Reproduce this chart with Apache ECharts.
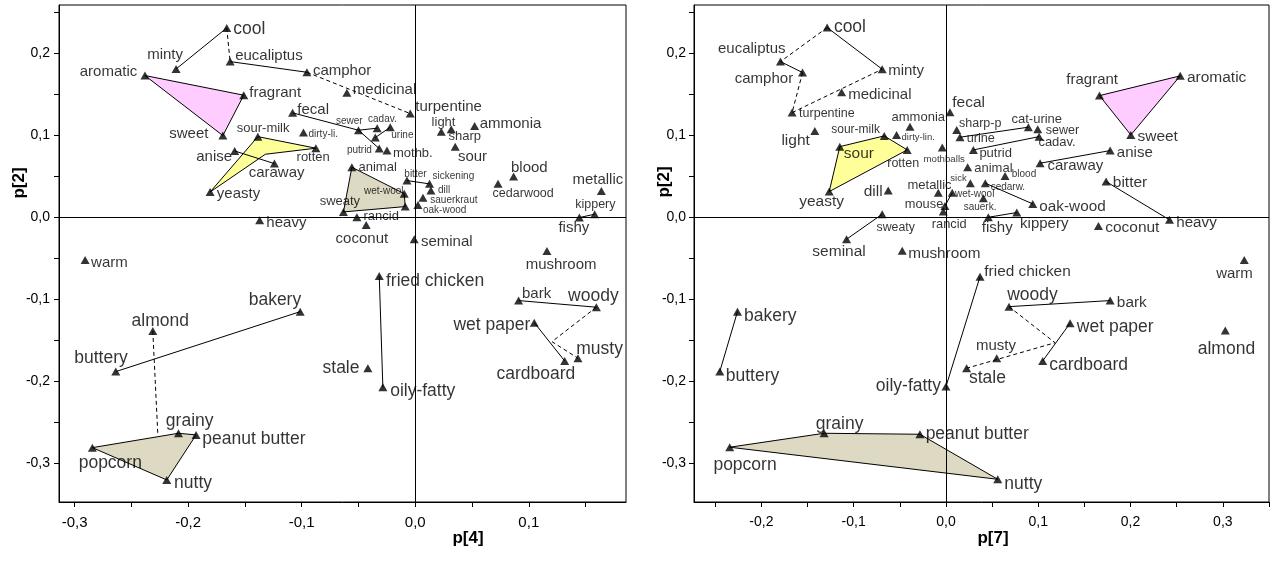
<!DOCTYPE html>
<html>
<head>
<meta charset="utf-8">
<script src="https://cdn.jsdelivr.net/npm/echarts@6/dist/echarts.min.js"></script>
<style>
  html, body { margin: 0; padding: 0; background: #fff; }
  #chart { width: 1276px; height: 562px; }
</style>
</head>
<body>
<div id="chart"></div>
<script>
// ---------- Loadings: p[4] vs p[2] ----------
const leftTerms = ['cool','minty','eucaliptus','camphor','aromatic','fragrant','sweet','medicinal','turpentine','fecal',
  'sour-milk','dirty-li.','sewer','cadav.','urine','putrid','mothb.','rotten','anise','caraway',
  'yeasty','heavy','light','sharp','ammonia','sour','animal','wet-wool','sweaty','rancid',
  'coconut','bitter','sickening','dill','sauerkraut','oak-wood','seminal','blood','cedarwood','metallic',
  'kippery','fishy','mushroom','warm','fried chicken','stale','oily-fatty','bakery','almond','buttery',
  'grainy','peanut butter','popcorn','nutty','bark','woody','wet paper','cardboard','musty'];
const leftP4 = [-0.166,-0.2106,-0.163,-0.0954,-0.238,-0.151,-0.1694,-0.0602,-0.0044,-0.108,
  -0.1386,-0.0984,-0.050,-0.0335,-0.022,-0.0317,-0.0249,-0.0875,-0.159,-0.124,
  -0.1806,-0.137,0.0229,0.0317,0.0523,0.0352,-0.0558,-0.0097,-0.0632,-0.0514,
  -0.0432,-0.0073,0.0126,0.0138,0.0068,0.0024,-0.0009,0.0866,0.0729,0.1639,
  0.158,0.1445,0.116,-0.2907,-0.0317,-0.0417,-0.0285,-0.1013,-0.2311,-0.2637,
  -0.2085,-0.193,-0.2843,-0.2188,0.091,0.1595,0.1048,0.1316,0.1433];
const leftP2 = [0.231,0.181,0.190,0.177,0.173,0.149,0.0998,0.152,0.1266,0.1275,
  0.0985,0.1034,0.1063,0.1088,0.110,0.0839,0.0815,0.0844,0.081,0.0656,
  0.031,-0.0034,0.1046,0.1075,0.1116,0.0863,0.0612,0.029,0.0067,0.0002,
  -0.0091,0.0449,0.0409,0.0327,0.0241,0.0152,-0.0266,0.0498,0.0409,0.0323,
  0.0039,-0.0002,-0.0409,-0.0518,-0.0713,-0.1839,-0.2071,-0.1149,-0.1384,-0.188,
  -0.2632,-0.2652,-0.2807,-0.3201,-0.1014,-0.1095,-0.1283,-0.175,-0.1717];
// markers drawn without a name (#0, #1)
const leftMarks = [[-0.0352, 0.0973], [-0.0088, 0.0132]];
// unmarked vertices used by outlines and connectors (@0, @1, @2)
const leftJoints = [[-0.132, 0.077], [0.1204, -0.1515], [-0.2267, -0.264]];
const leftSolid = [['cool','minty'],['eucaliptus','camphor'],['fecal','sewer'],['sewer','cadav.'],['sewer','putrid'],
  ['#0','urine'],['anise','caraway'],['bitter','sickening'],['fried chicken','oily-fatty'],['bakery','buttery'],
  ['bark','woody'],['wet paper','cardboard'],['fishy','kippery']];
const leftDashed = [['cool','eucaliptus'],['camphor','turpentine'],['almond','@2'],['woody','@1','musty']];
const leftGroups = [['aromatic','fragrant','sweet'],['sour-milk','rotten','@0','yeasty'],
  ['animal','wet-wool','#1','sweaty'],['popcorn','grainy','peanut butter','nutty']];

// ---------- Loadings: p[7] vs p[2] ----------
const rightTerms = ['cool','eucaliptus','camphor','minty','medicinal','turpentine','light','sour-milk','dirty-lin.','ammonia',
  'sour','rotten','yeasty','dill','mothballs','metallic','mouse','rancid','wet-wool','sick',
  'cedarw.','sauerk.','blood','animal','putrid','fecal','sharp-p','urine','cat-urine','sewer',
  'cadav.','caraway','anise','fragrant','aromatic','sweet','bitter','heavy','coconut','oak-wood',
  'fishy','kippery','sweaty','seminal','mushroom','fried chicken','bakery','buttery','oily-fatty','grainy',
  'peanut butter','popcorn','nutty','woody','bark','wet paper','cardboard','musty','stale','warm','almond'];
const rightP7 = [-0.1287,-0.1793,-0.1554,-0.0691,-0.1131,-0.1667,-0.1421,-0.0669,-0.0535,-0.039,
  -0.115,-0.042,-0.1265,-0.0626,-0.004,-0.0083,-0.0011,-0.0029,0.0068,0.0264,
  0.0426,0.0405,0.064,0.0235,0.0297,0.0043,0.0116,0.0152,0.0893,0.0994,
  0.1009,0.102,0.1779,0.1663,0.2538,0.2003,0.1735,0.2422,0.1652,0.094,
  0.0459,0.0767,-0.0691,-0.1077,-0.0474,0.0369,-0.2259,-0.2451,0.0,-0.132,
  -0.0282,-0.2343,0.0561,0.0683,0.1779,0.1345,0.1048,0.055,0.0224,0.3232,0.3026];
const rightP2 = [0.2315,0.190,0.1766,0.1807,0.1527,0.1278,0.1055,0.0994,0.1006,0.1107,
  0.0863,0.0823,0.0315,0.0327,0.0851,0.0302,0.014,0.0071,0.0302,0.0417,
  0.0417,0.0234,0.0506,0.0612,0.0823,0.1283,0.1067,0.0978,0.110,0.1076,
  0.0985,0.0661,0.0815,0.1485,0.1726,0.1006,0.0437,-0.003,-0.0104,0.0165,
  0.0002,0.0059,0.0039,-0.0266,-0.0405,-0.0722,-0.1149,-0.188,-0.2063,-0.2632,
  -0.2644,-0.2802,-0.3193,-0.1088,-0.1014,-0.129,-0.175,-0.1717,-0.1839,-0.0518,-0.138];
const rightMarks = [];
const rightJoints = [[0.1182, -0.1528]];
const rightSolid = [['cool','minty'],['eucaliptus','camphor'],['urine','cat-urine'],['putrid','cadav.'],['caraway','anise'],
  ['bitter','heavy'],['cedarw.','oak-wood'],['fishy','kippery'],['sweaty','seminal'],['wet-wool','mouse'],
  ['fried chicken','oily-fatty'],['bakery','buttery'],['woody','bark'],['wet paper','cardboard']];
const rightDashed = [['cool','eucaliptus'],['camphor','turpentine'],['turpentine','minty'],['woody','@0','stale']];
const rightGroups = [['fragrant','aromatic','sweet'],['sour','sour-milk','rotten','yeasty'],
  ['popcorn','grainy','peanut butter','nutty']];

// tick positions and labelled values
const yTicks = [-0.3,-0.25,-0.2,-0.15,-0.1,-0.05,0,0.05,0.1,0.15,0.2,0.25];
const yLabels = [-0.3,-0.2,-0.1,0,0.1,0.2];
const leftXTicks = [-0.3,-0.25,-0.2,-0.15,-0.1,-0.05,0,0.05,0.1,0.15];
const leftXLabels = [-0.3,-0.2,-0.1,0,0.1];
const rightXTicks = [-0.25,-0.2,-0.15,-0.1,-0.05,0,0.05,0.1,0.15,0.2,0.25,0.3,0.35];
const rightXLabels = [-0.2,-0.1,0,0.1,0.2,0.3];

// ---------- label placement: [align, dx, dy, fontSize] ----------
const leftLayout = {
  'cool':['l',6.6,1,17.5],'minty':['c',-11,-14,15],'eucaliptus':['l',5,-6,15],'camphor':['l',6,-1.3,15],
  'aromatic':['r',-7.7,-4,15],'fragrant':['l',5.6,-2,15],'sweet':['r',-14.4,-1.4,15],'medicinal':['l',6,-2.7,15],
  'turpentine':['l',5,-6.4,15],'fecal':['l',4.7,-2.6,15],'sour-milk':['c',5.3,-8.7,13],'dirty-li.':['l',5,1.3,10],
  'sewer':['c',-9.1,-9.3,10],'cadav.':['c',5.2,-9,10],'urine':['l',1,7.7,10],'putrid':['r',-7.3,2,10],
  'mothb.':['l',6,3.3,13],'rotten':['c',-2.7,9.4,13],'anise':['r',-2.6,5.7,15],'caraway':['c',2.2,9.6,15],
  'yeasty':['l',6.7,2.3,15],'heavy':['l',6.7,3,15],'light':['c',2.3,-9,13],'sharp':['l',-2.7,7.4,13],
  'ammonia':['l',5,-2,15],'sour':['l',2.7,10,15],'animal':['l',6.6,0.4,13],'wet-wool':['r',-0.7,-2,10],
  'sweaty':['c',-3.6,-10.3,13],'rancid':['l',6.6,-0.6,13],'coconut':['c',-4.3,14,15],'bitter':['c',8.5,-6.7,10],
  'sickening':['l',3,-7.3,10],'dill':['l',7,-0.7,10],'sauerkraut':['l',7.3,3,10],'oak-wood':['l',5,5.7,10],
  'seminal':['l',6.7,2.4,15],'blood':['l',-2.6,-8.4,15],'cedarwood':['l',-5.4,9.3,12.5],'metallic':['c',-3.5,-11,15],
  'kippery':['c',0.7,-9.3,12.5],'fishy':['c',-5.5,10.6,15],'mushroom':['c',14.1,14,15],'warm':['l',6,3.3,15],
  'fried chicken':['l',6.7,5.7,17.5],'stale':['r',-8.4,0,17.5],'oily-fatty':['l',7.3,4.4,17.5],
  'bakery':['r',1,-11.7,17.5],'almond':['c',7.5,-10,17.5],'buttery':['r',12,-13.4,17.5],'grainy':['c',11.2,-12.6,17.5],
  'peanut butter':['l',6.3,4.3,17.5],'popcorn':['c',17.9,15.6,17.5],'nutty':['l',7.3,3.3,17.5],
  'bark':['l',3.4,-6.7,15],'woody':['c',-3,-11.3,17.5],'wet paper':['r',-4,2.3,17.5],'cardboard':['c',-28.8,13,17.5],
  'musty':['l',-1.7,-9,17.5]
};
const rightLayout = {
  'cool':['l',6.7,-0.4,17.5],'eucaliptus':['c',-28.7,-12.7,15],'camphor':['r',-9.4,6.6,15],'minty':['l',6,1.4,15],
  'medicinal':['l',6.6,2.7,15],'turpentine':['l',7,1,12.5],'light':['r',-5,9.7,15.5],'sour-milk':['r',-4.3,-6.7,12],
  'dirty-lin.':['l',5,2.3,9.5],'ammonia':['c',8.3,-9,13],'sour':['l',4,7.3,15.5],'rotten':['c',-4,13.3,12.5],
  'yeasty':['c',-7.6,10,15.5],'dill':['r',-5.6,1,15.5],'mothballs':['c',1.9,11.3,9.7],'metallic':['c',-8.8,-7.7,13],
  'mouse':['r',-1.7,-1.7,12.8],'rancid':['c',5.9,13.3,12.8],'wet-wool':['l',2.7,1.3,10],'sick':['r',-3.6,-5,9.5],
  'cedarw.':['l',5.4,4,10],'sauerk.':['c',-3.3,9.4,10],'blood':['l',6.7,-1.7,10],'animal':['l',6.6,1,13],
  'putrid':['l',6,3.3,13],'fecal':['l',2.3,-9.6,15.5],'sharp-p':['l',2.3,-6.7,12.5],'urine':['l',6.7,1,12.7],
  'cat-urine':['c',8.4,-7.3,13],'sewer':['l',8,1.4,12.5],'cadav.':['l',-0.7,5.6,13],'caraway':['l',7.3,2.4,15],
  'anise':['l',6.7,2.6,15],'fragrant':['c',-7.3,-15.7,15],'aromatic':['l',6.7,1.7,15.5],'sweet':['l',6.6,1.7,15.5],
  'bitter':['l',6.7,1.6,15.5],'heavy':['l',6.7,2.7,15.2],'coconut':['l',6.7,1.7,15.5],'oak-wood':['l',6.6,2.7,15.3],
  'fishy':['c',8.9,10.4,15],'kippery':['l',3.3,11.3,15],'sweaty':['c',13.5,13,12.3],'seminal':['c',-7.5,12.4,15.5],
  'mushroom':['l',6,3.3,15.3],'fried chicken':['l',4.3,-4.4,15.4],'bakery':['l',6.6,5,17.5],'buttery':['l',6,4.3,17.5],
  'oily-fatty':['r',-5,-0.7,17.5],'grainy':['c',15.5,-9.3,17.5],'peanut butter':['l',5.7,0,17.5],
  'popcorn':['c',15.3,17.7,17.5],'nutty':['l',6.6,5,17.5],'woody':['c',23.5,-11,17.5],'bark':['l',6.7,2.6,15.4],
  'wet paper':['l',6.7,4,17.5],'cardboard':['l',6.6,4,17.5],'musty':['c',-0.7,-12.6,15],'stale':['l',2.3,10,17.5],
  'warm':['c',-9.8,14,15],'almond':['c',1.2,18.3,17.5]
};
const leftFills = ['#ffccff', '#ffff99', '#ddd9c3', '#ddd9c3'];
const rightFills = ['#ffccff', '#ffff99', '#ddd9c3'];

const FONT = '"Liberation Sans", Arial, Helvetica, sans-serif';
const INK = '#000';
const fmt = v => (Math.round(v * 10) / 10).toFixed(1).replace('.', ',');

function lookup(terms, xs, ys, marks, joints) {
  const m = {};
  terms.forEach((t, i) => { m[t] = [xs[i], ys[i]]; });
  marks.forEach((p, i) => { m['#' + i] = p; });
  joints.forEach((p, i) => { m['@' + i] = p; });
  return m;
}

function labelFor(spec) {
  const [a, dx, dy, size] = spec;
  return {
    show: true, formatter: '{b}', position: ['50%', '50%'],
    align: a === 'l' ? 'left' : a === 'r' ? 'right' : 'center',
    verticalAlign: 'middle', offset: [dx, dy],
    fontSize: size, fontFamily: FONT, color: INK
  };
}

function panelSeries(idx, terms, xs, ys, marks, joints, solid, dashed, groups, fills, layout) {
  const P = lookup(terms, xs, ys, marks, joints);
  const links = solid.map(k => ({ keys: k, dash: false })).concat(dashed.map(k => ({ keys: k, dash: true })));
  const polys = {
    type: 'custom', xAxisIndex: idx, yAxisIndex: idx, z: 1, silent: true,
    data: groups.map(g => P[g[0]]),
    renderItem: (params, api) => {
      const g = groups[params.dataIndex];
      return {
        type: 'polygon',
        shape: { points: g.map(k => api.coord(P[k])) },
        style: { fill: fills[params.dataIndex], stroke: '#000', lineWidth: 1 }
      };
    }
  };
  const lines = {
    type: 'custom', xAxisIndex: idx, yAxisIndex: idx, z: 2, silent: true,
    data: links.map(l => P[l.keys[0]]),
    renderItem: (params, api) => {
      const l = links[params.dataIndex];
      return {
        type: 'polyline',
        shape: { points: l.keys.map(k => api.coord(P[k])) },
        style: { stroke: '#000', lineWidth: 1, fill: null, lineDash: l.dash ? [4, 3] : null }
      };
    }
  };
  const pts = terms.map((t, i) => ({ value: [xs[i], ys[i]], name: t, label: labelFor(layout[t]) }))
    .concat(marks.map(p => ({ value: p, name: '', label: { show: false } })));
  const scatter = {
    type: 'scatter', xAxisIndex: idx, yAxisIndex: idx, z: 3, silent: true,
    symbol: 'triangle', symbolSize: [9, 8],
    itemStyle: { color: '#000' },
    data: pts,
    markLine: {
      silent: true, symbol: ['none', 'none'], label: { show: false },
      lineStyle: { color: '#000', width: 1, type: 'solid' },
      data: [{ xAxis: 0 }, { yAxis: 0 }]
    }
  };
  return [polys, lines, scatter];
}

function xAxisCfg(idx, min, max, ticks, labels, size) {
  return {
    gridIndex: idx, type: 'value', min: min, max: max,
    axisLine: { show: true, onZero: false, lineStyle: { color: '#000', width: 1 } },
    axisTick: { show: true, inside: false, length: 5, customValues: ticks, lineStyle: { color: '#000' } },
    axisLabel: { customValues: labels, formatter: fmt, fontSize: size, fontFamily: FONT, color: INK, margin: 13 },
    splitLine: { show: false }
  };
}
function yAxisCfg(idx, margin) {
  return {
    gridIndex: idx, type: 'value', min: -0.347, max: 0.259,
    axisLine: { show: true, onZero: false, lineStyle: { color: '#000', width: 1 } },
    axisTick: { show: true, inside: false, length: 5, customValues: yTicks, lineStyle: { color: '#000' } },
    axisLabel: { customValues: yLabels, formatter: fmt, fontSize: 14, fontFamily: FONT, color: INK, margin: margin },
    splitLine: { show: false }
  };
}

const chart = echarts.init(document.getElementById('chart'), null, { renderer: 'canvas' });
const titleStyle = { fontSize: 17, fontWeight: 'bold', fontFamily: FONT, fill: '#000' };
chart.setOption({
  animation: false,
  backgroundColor: '#fff',
  grid: [
    { left: 59, top: 5, width: 567, height: 497, show: true, borderColor: '#000', borderWidth: 1, backgroundColor: 'transparent' },
    { left: 694, top: 5, width: 575, height: 497, show: true, borderColor: '#000', borderWidth: 1, backgroundColor: 'transparent' }
  ],
  xAxis: [
    xAxisCfg(0, -0.3137, 0.1856, leftXTicks, leftXLabels, 15),
    xAxisCfg(1, -0.273, 0.35, rightXTicks, rightXLabels, 14)
  ],
  yAxis: [yAxisCfg(0, 9), yAxisCfg(1, 8)],
  series: []
    .concat(panelSeries(0, leftTerms, leftP4, leftP2, leftMarks, leftJoints, leftSolid, leftDashed, leftGroups, leftFills, leftLayout))
    .concat(panelSeries(1, rightTerms, rightP7, rightP2, rightMarks, rightJoints, rightSolid, rightDashed, rightGroups, rightFills, rightLayout)),
  graphic: [
    { type: 'text', x: 468, y: 538, style: Object.assign({ text: 'p[4]', align: 'center', verticalAlign: 'middle' }, titleStyle) },
    { type: 'text', x: 993, y: 538, style: Object.assign({ text: 'p[7]', align: 'center', verticalAlign: 'middle' }, titleStyle) },
    { type: 'text', x: 19, y: 183, rotation: Math.PI / 2, style: Object.assign({ text: 'p[2]', align: 'center', verticalAlign: 'middle' }, titleStyle) },
    { type: 'text', x: 664, y: 182, rotation: Math.PI / 2, style: Object.assign({ text: 'p[2]', align: 'center', verticalAlign: 'middle' }, titleStyle) }
  ]
});
</script>
</body>
</html>
